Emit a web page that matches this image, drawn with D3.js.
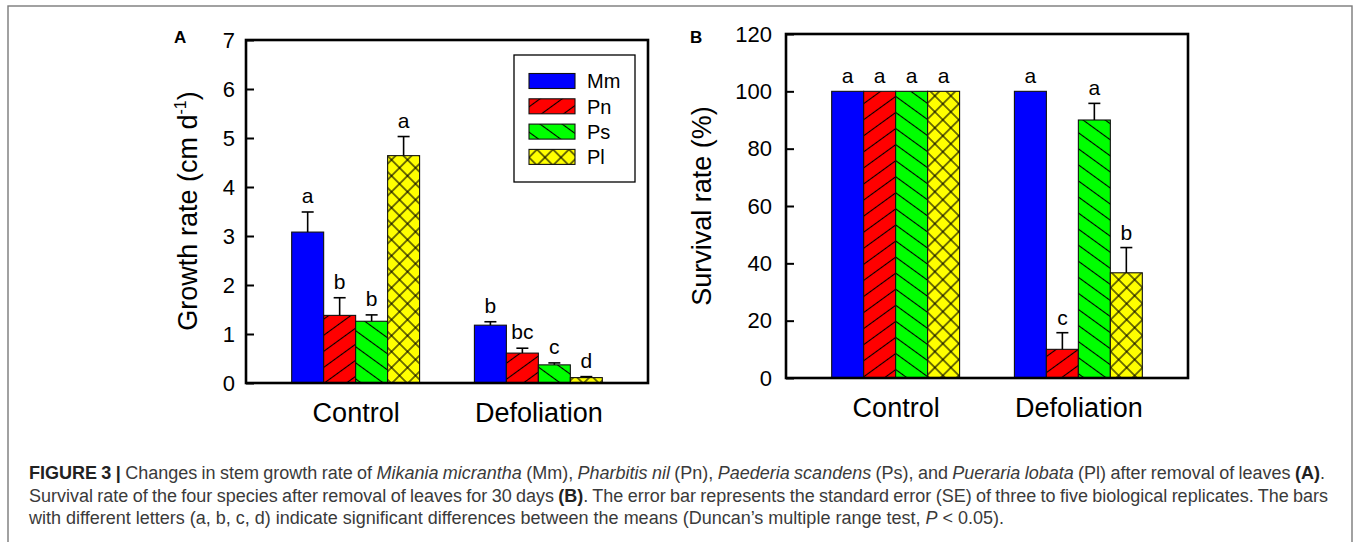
<!DOCTYPE html>
<html>
<head>
<meta charset="utf-8">
<script src="https://cdn.jsdelivr.net/npm/d3@7"></script>
<style>
  body { margin: 0; background: #fff; }
  #fig { position: absolute; left: 0; top: 0; }
  #fig text { font-family: Arial, "Liberation Sans", sans-serif; fill: #000; }
  #caption {
    position: absolute; left: 29px; top: 462px; width: 1310px;
    font-family: Arial, "Liberation Sans", sans-serif;
    font-size: 18px; line-height: 22.5px; color: #3a3a3a;
  }
  #caption div { white-space: nowrap; }
  #caption b { color: #222; }
</style>
</head>
<body>
<svg id="fig"></svg>
<div id="caption">
  <div><span><b>FIGURE 3 |</b> Changes in stem growth rate of <i>Mikania micrantha</i> (Mm), <i>Pharbitis nil</i> (Pn), <i>Paederia scandens</i> (Ps), and <i>Pueraria lobata</i> (Pl) after removal of leaves <b>(A)</b>.</span></div>
  <div><span>Survival rate of the four species after removal of leaves for 30 days <b>(B)</b>. The error bar represents the standard error (SE) of three to five biological replicates. The bars</span></div>
  <div><span>with different letters (a, b, c, d) indicate significant differences between the means (Duncan’s multiple range test, <i>P</i> &lt; 0.05).</span></div>
</div>
<script>
(function(global) {
  'use strict';

  //---DATA
  var groups = ['Control', 'Defoliation'];
  var species = ['Mm', 'Pn', 'Ps', 'Pl'];

  var growth_mean = [[3.08, 1.38, 1.26, 4.64], [1.18, 0.61, 0.37, 0.11]];
  var growth_se = [[0.41, 0.36, 0.13, 0.39], [0.07, 0.10, 0.04, 0.02]];
  var growth_letters = [['a', 'b', 'b', 'a'], ['b', 'bc', 'c', 'd']];
  var growth_ticks = [0, 1, 2, 3, 4, 5, 6, 7];

  var survival_mean = [[100, 100, 100, 100], [100, 10, 90, 36.7]];
  var survival_se = [[0, 0, 0, 0], [0, 5.8, 5.8, 8.8]];
  var survival_letters = [['a', 'a', 'a', 'a'], ['a', 'c', 'a', 'b']];
  var survival_ticks = [0, 20, 40, 60, 80, 100, 120];

  //---STYLES
  var colors = ['#0000ff', '#ff0000', '#00ff00', '#ffff00'];
  var hatches = [[], ['hatch_f'], ['hatch_b'], ['cross_f', 'cross_b']];
  var bar_w = 0.175;
  var caption_w = [1296, 1299, 975]; //--line lengths of the caption

  var svg = d3.select('#fig')
    .attr('width', 1358)
    .attr('height', 542);

  //---OUTER FRAME
  svg.append('rect')
    .attr('x', 8)
    .attr('y', 6)
    .attr('width', 1344)
    .attr('height', 560)
    .style('fill', 'none')
    .style('stroke', '#7a7a7a')
    .style('stroke-width', 1.4);

  //---PATTERNS
  var defs = svg.append('defs');
  make_hatch('hatch_f', -36, 13);
  make_hatch('hatch_b', 36, 13);
  make_hatch('cross_f', -45, 11.3);
  make_hatch('cross_b', 45, 11.3);

  //---PANEL A
  draw_panel({
    label: 'A', lx: 174, ly: 43,
    left: 246, right: 648, top: 40, bottom: 383,
    ymax: 7, ticks: growth_ticks, pad: 11,
    mean: growth_mean, se: growth_se, letters: growth_letters, off: 9,
    title_x: 197, title_y: 211,
    title: ['Growth rate (cm d', '-1', ')'],
    legend: true
  });

  //---PANEL B
  draw_panel({
    label: 'B', lx: 690, ly: 43,
    left: 786, right: 1188, top: 34, bottom: 378,
    ymax: 120, ticks: survival_ticks, pad: 14,
    mean: survival_mean, se: survival_se, letters: survival_letters, off: 8,
    title_x: 711, title_y: 206,
    title: ['Survival rate (%)'],
    legend: false
  });

  fit_caption();

  //-------------------------
  //  FUNCTIONS
  function make_hatch(id, angle, sp) {
    var pat = defs.append('pattern')
      .attr('id', id)
      .attr('patternUnits', 'userSpaceOnUse')
      .attr('width', 10)
      .attr('height', sp)
      .attr('patternTransform', 'rotate(' + angle + ')');
    pat.append('line')
      .attr('x1', -1).attr('y1', sp / 2)
      .attr('x2', 11).attr('y2', sp / 2)
      .style('stroke', '#000')
      .style('stroke-width', 1.1);
  }

  function draw_panel(p) {
    var x = d3.scaleLinear().domain([0.4, 2.6]).range([p.left, p.right]);
    var y = d3.scaleLinear().domain([0, p.ymax]).range([p.bottom, p.top]);
    var g = svg.append('g').attr('class', 'panel_' + p.label);

    //---rows from the arrays
    var rows = [];
    groups.forEach(function(grp, gi) {
      species.forEach(function(sp, si) {
        rows.push({
          gi: gi, si: si,
          x0: gi + 1 - 2 * bar_w + si * bar_w,
          mean: p.mean[gi][si],
          se: p.se[gi][si],
          letter: p.letters[gi][si]
        });
      });
    });

    //---BARS
    var bar_g = g.selectAll('g.bar')
      .data(rows)
      .enter()
      .append('g')
      .attr('class', 'bar');

    bar_g.append('rect')
      .attr('x', function(d) { return x(d.x0); })
      .attr('y', function(d) { return y(d.mean); })
      .attr('width', function(d) { return x(d.x0 + bar_w) - x(d.x0); })
      .attr('height', function(d) { return y(0) - y(d.mean); })
      .style('fill', function(d) { return colors[d.si]; });

    bar_g.each(function(d) {
      var self = d3.select(this);
      hatches[d.si].forEach(function(h) {
        self.append('rect')
          .attr('x', x(d.x0))
          .attr('y', y(d.mean))
          .attr('width', x(d.x0 + bar_w) - x(d.x0))
          .attr('height', y(0) - y(d.mean))
          .style('fill', 'url(#' + h + ')');
      });
      //--outline
      self.append('rect')
        .attr('x', x(d.x0))
        .attr('y', y(d.mean))
        .attr('width', x(d.x0 + bar_w) - x(d.x0))
        .attr('height', y(0) - y(d.mean))
        .style('fill', 'none')
        .style('stroke', '#111')
        .style('stroke-width', 1.1);
    });

    //---ERROR BARS
    var err_g = bar_g.filter(function(d) { return d.se > 0; });
    err_g.append('line')
      .attr('x1', function(d) { return x(d.x0 + bar_w / 2); })
      .attr('x2', function(d) { return x(d.x0 + bar_w / 2); })
      .attr('y1', function(d) { return y(d.mean); })
      .attr('y2', function(d) { return y(d.mean + d.se); })
      .style('stroke', '#000')
      .style('stroke-width', 1.6);
    err_g.append('line')
      .attr('x1', function(d) { return x(d.x0 + bar_w / 2) - 6; })
      .attr('x2', function(d) { return x(d.x0 + bar_w / 2) + 6; })
      .attr('y1', function(d) { return y(d.mean + d.se); })
      .attr('y2', function(d) { return y(d.mean + d.se); })
      .style('stroke', '#000')
      .style('stroke-width', 1.6);

    //---LETTERS
    bar_g.append('text')
      .attr('x', function(d) { return x(d.x0 + bar_w / 2); })
      .attr('y', function(d) { return y(d.mean + d.se) - p.off; })
      .attr('text-anchor', 'middle')
      .style('font-size', '21px')
      .text(function(d) { return d.letter; });

    //---Y AXIS
    var y_axis = g.append('g')
      .attr('transform', 'translate(' + p.left + ',0)')
      .call(d3.axisLeft(y)
        .tickValues(p.ticks)
        .tickFormat(d3.format('d'))
        .tickSize(-8)
        .tickSizeOuter(0)
        .tickPadding(p.pad));
    y_axis.select('.domain').remove();
    y_axis.selectAll('line').style('stroke', '#000').style('stroke-width', 2);
    y_axis.selectAll('text')
      .style('font-size', '22px')
      .style('font-family', 'Arial, "Liberation Sans", sans-serif');

    //---X AXIS LABELS
    var x_axis = g.append('g')
      .attr('transform', 'translate(0,' + p.bottom + ')')
      .call(d3.axisBottom(x)
        .tickValues([1, 2])
        .tickFormat(function(d) { return groups[d - 1]; })
        .tickSize(0)
        .tickPadding(20));
    x_axis.select('.domain').remove();
    x_axis.selectAll('text')
      .style('font-size', '27px')
      .style('font-family', 'Arial, "Liberation Sans", sans-serif');

    //---BOX
    g.append('rect')
      .attr('x', p.left)
      .attr('y', p.top)
      .attr('width', p.right - p.left)
      .attr('height', p.bottom - p.top)
      .style('fill', 'none')
      .style('stroke', '#000')
      .style('stroke-width', 2.6);

    //---Y TITLE
    var title = g.append('text')
      .attr('transform', 'translate(' + p.title_x + ',' + p.title_y + ') rotate(-90)')
      .attr('text-anchor', 'middle')
      .style('font-size', '27px');
    title.append('tspan').text(p.title[0]);
    if (p.title.length > 1) {
      title.append('tspan')
        .attr('dy', -11)
        .style('font-size', '16px')
        .text(p.title[1]);
      title.append('tspan')
        .attr('dy', 11)
        .text(p.title[2]);
    }

    //---PANEL LABEL
    g.append('text')
      .attr('x', p.lx)
      .attr('y', p.ly)
      .style('font-size', '17px')
      .style('font-weight', 'bold')
      .text(p.label);

    //---LEGEND
    if (p.legend) {
      var leg = g.append('g').attr('class', 'legend');
      leg.append('rect')
        .attr('x', 514).attr('y', 55)
        .attr('width', 121).attr('height', 127)
        .style('fill', '#fff')
        .style('stroke', '#000')
        .style('stroke-width', 1.3);
      var item = leg.selectAll('g.item')
        .data(species)
        .enter()
        .append('g')
        .attr('class', 'item')
        .attr('transform', function(d, i) { return 'translate(529,' + (73.5 + i * 25.3) + ')'; });
      item.append('rect')
        .attr('width', 46).attr('height', 15)
        .style('fill', function(d, i) { return colors[i]; });
      item.each(function(d, i) {
        var self = d3.select(this);
        hatches[i].forEach(function(h) {
          self.append('rect')
            .attr('width', 46).attr('height', 15)
            .style('fill', 'url(#' + h + ')');
        });
        self.append('rect')
          .attr('width', 46).attr('height', 15)
          .style('fill', 'none')
          .style('stroke', '#111')
          .style('stroke-width', 1.1);
      });
      item.append('text')
        .attr('x', 58)
        .attr('y', 7.5)
        .attr('dy', '0.36em')
        .style('font-size', '20px')
        .text(function(d) { return d; });
    }
  }

  //---spread the words of each caption line to its length
  function fit_caption() {
    d3.selectAll('#caption span').each(function(d, i) {
      var span = d3.select(this);
      var w = this.getBoundingClientRect().width;
      var gaps = (this.textContent.trim().match(/\s+/g) || []).length;
      if (gaps > 0)
        span.style('word-spacing', ((caption_w[i] - w) / gaps) + 'px');
    });
  }

})(window);
</script>
</body>
</html>
